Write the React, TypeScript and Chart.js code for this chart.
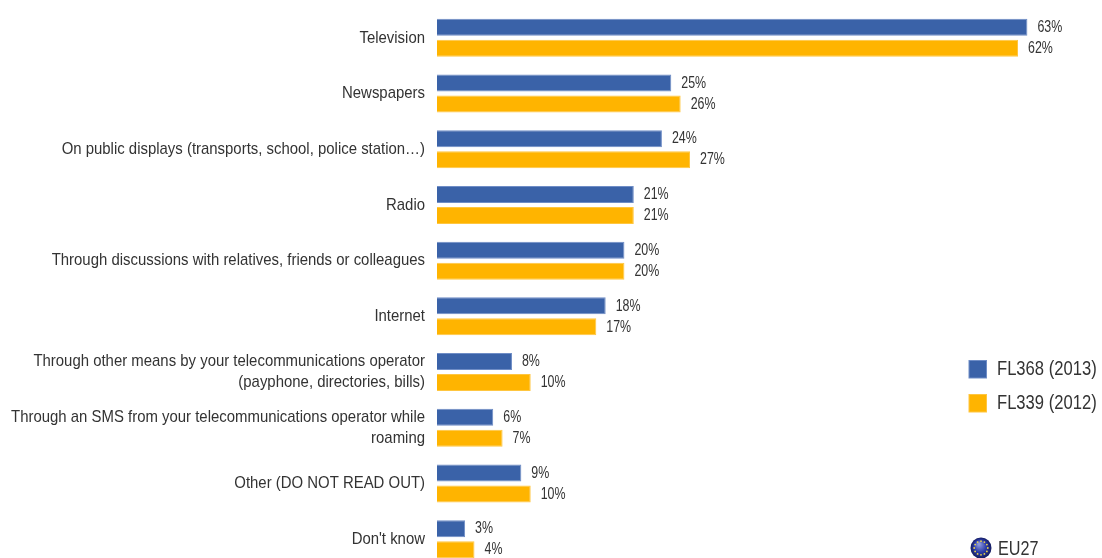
import React, { useEffect, useRef } from "react";
import { Chart, registerables } from "chart.js";

Chart.register(...registerables);

const categories: (string | string[])[] = [
  "Television",
  "Newspapers",
  "On public displays (transports, school, police station…)",
  "Radio",
  "Through discussions with relatives, friends or colleagues",
  "Internet",
  ["Through other means by your telecommunications operator", "(payphone, directories, bills)"],
  ["Through an SMS from your telecommunications operator while", "roaming"],
  "Other (DO NOT READ OUT)",
  "Don't know",
];
const fl368 = [63, 25, 24, 21, 20, 18, 8, 6, 9, 3];
const fl339 = [62, 26, 27, 21, 20, 17, 10, 7, 10, 4];
const seriesNames = ["FL368 (2013)", "FL339 (2012)"];
const regionLabel = "EU27";

const BLUE = "#3A62A8";
const BLUE_EDGE = "#6F8DC6";
const ORANGE = "#FFB400";
const ORANGE_EDGE = "#FFC640";
const TEXT = "#333333";
const FONT = '"Liberation Sans", Arial, sans-serif';

function narrowText(ctx: any, text: string, x: number, y: number, squeeze: number) {
  ctx.save();
  ctx.translate(x, y);
  ctx.scale(squeeze, 1);
  ctx.fillText(text, 0, 0);
  ctx.restore();
}

const axisLabels = {
  id: "axisLabels",
  afterDatasetsDraw(chart: any) {
    const { ctx } = chart;
    const scale = chart.scales.y;
    ctx.save();
    ctx.font = `17px ${FONT}`;
    ctx.fillStyle = TEXT;
    ctx.textAlign = "right";
    ctx.textBaseline = "middle";
    (chart.data.labels as (string | string[])[]).forEach((label, i) => {
      const lines = Array.isArray(label) ? label : [label];
      const mid = scale.getPixelForTick(i);
      lines.forEach((line, k) => {
        narrowText(ctx, line, scale.right - 12, mid + (k - (lines.length - 1) / 2) * 21, 0.878);
      });
    });
    ctx.restore();
  },
};

const valueLabels = {
  id: "valueLabels",
  afterDatasetsDraw(chart: any) {
    const { ctx } = chart;
    ctx.save();
    ctx.font = `17px ${FONT}`;
    ctx.fillStyle = TEXT;
    ctx.textAlign = "left";
    ctx.textBaseline = "middle";
    chart.data.datasets.forEach((ds: any, i: number) => {
      chart.getDatasetMeta(i).data.forEach((bar: any, j: number) => {
        narrowText(ctx, `${ds.data[j]}%`, bar.x + 10, bar.y, 0.73);
      });
    });
    ctx.restore();
  },
};

const sideLegend = {
  id: "sideLegend",
  afterDraw(chart: any) {
    const { ctx } = chart;
    ctx.save();
    ctx.font = `20px ${FONT}`;
    ctx.textBaseline = "middle";
    ctx.textAlign = "left";
    chart.data.datasets.forEach((ds: any, i: number) => {
      const y = 360 + i * 34;
      ctx.fillStyle = ds.borderColor;
      ctx.fillRect(968.5, y, 18.5, 18.5);
      ctx.fillStyle = ds.backgroundColor;
      ctx.fillRect(969.5, y + 1, 16.5, 16.5);
      ctx.fillStyle = TEXT;
      narrowText(ctx, ds.label, 997, y + 9, 0.83);
    });
    // EU flag globe
    const cx = 981;
    const cy = 548;
    const r = 10.5;
    const g = ctx.createRadialGradient(cx - 2, cy - 4, 1, cx, cy, r);
    g.addColorStop(0, "#8A96DC");
    g.addColorStop(0.55, "#2B3AA6");
    g.addColorStop(1, "#141C60");
    ctx.fillStyle = g;
    ctx.beginPath();
    ctx.arc(cx, cy, r, 0, Math.PI * 2);
    ctx.fill();
    ctx.fillStyle = "#E8D44A";
    for (let k = 0; k < 12; k++) {
      const a = (k / 12) * Math.PI * 2;
      ctx.beginPath();
      ctx.arc(cx + Math.cos(a) * 6.8, cy + Math.sin(a) * 6.8, 0.9, 0, Math.PI * 2);
      ctx.fill();
    }
    ctx.fillStyle = TEXT;
    ctx.font = `20px ${FONT}`;
    narrowText(ctx, regionLabel, 998, 549, 0.81);
    ctx.restore();
  },
};

export default function App() {
  const ref = useRef<HTMLCanvasElement | null>(null);
  useEffect(() => {
    const chart = new Chart(ref.current as HTMLCanvasElement, {
      type: "bar",
      data: {
        labels: categories as any,
        datasets: [
          { label: seriesNames[0], data: fl368, backgroundColor: BLUE, borderColor: BLUE_EDGE, borderWidth: 1, categoryPercentage: 0.754, barPercentage: 0.81 },
          { label: seriesNames[1], data: fl339, backgroundColor: ORANGE, borderColor: ORANGE_EDGE, borderWidth: 1, categoryPercentage: 0.754, barPercentage: 0.81 },
        ],
      },
      options: {
        indexAxis: "y",
        animation: false,
        responsive: false,
        layout: { padding: { top: 10, right: 9, bottom: 1, left: 0 } },
        plugins: { legend: { display: false }, tooltip: { enabled: false }, title: { display: false } },
        scales: {
          x: { display: false, min: 0, max: 70 },
          y: {
            afterFit: (s: any) => {
              s.width = 437;
              s.paddingTop = 0;
              s.paddingBottom = 0;
            },
            border: { display: false },
            grid: { display: false, drawTicks: false },
            ticks: { display: false },
          },
        },
      },
      plugins: [axisLabels, valueLabels, sideLegend],
    } as any);
    return () => chart.destroy();
  }, []);
  return (
    <div style={{ position: "fixed", left: 0, top: 0, width: 1102, height: 558, overflow: "hidden", background: "#fff" }}>
      <canvas ref={ref} width={1102} height={568} style={{ display: "block" }} />
    </div>
  );
}
